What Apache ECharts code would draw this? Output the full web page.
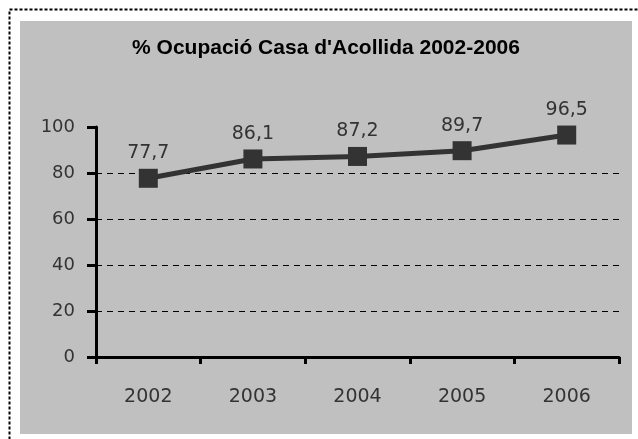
<!DOCTYPE html>
<html>
<head>
<meta charset="utf-8">
<script src="https://cdn.jsdelivr.net/npm/echarts@6/dist/echarts.min.js"></script>
<style>
html,body{margin:0;padding:0;background:#fff;}
#chart{width:638px;height:439px;}
</style>
</head>
<body>
<div id="chart"></div>
<script>
var titleText = "% Ocupació Casa d'Acollida 2002-2006";
var categories = ['2002', '2003', '2004', '2005', '2006'];
var occupancy = [77.7, 86.1, 87.2, 89.7, 96.5];
var yTicks = [0, 20, 40, 60, 80, 100];

var chart = echarts.init(document.getElementById('chart'), null, {renderer: 'canvas'});
var numFont = 'DejaVu Sans';
chart.setOption({
  backgroundColor: '#ffffff',
  animation: false,
  graphic: [
    {type: 'rect', shape: {x: 20, y: 21, width: 612, height: 413}, style: {fill: '#c0c0c0'}, z: -10},
    {type: 'rect', shape: {x: 9.5, y: 9.5, width: 660, height: 460},
     style: {fill: null, stroke: '#000', lineWidth: 2, lineDash: [3, 2]}, z: -9}
  ],
  title: {
    text: titleText,
    left: 321,
    textAlign: 'center',
    top: 33,
    textStyle: {fontFamily: 'Liberation Sans', fontWeight: 'bold', fontSize: 21, color: '#000'}
  },
  grid: {left: 96, right: 19, top: 127, bottom: 82, containLabel: false},
  xAxis: {
    type: 'category',
    data: categories,
    boundaryGap: true,
    axisLine: {lineStyle: {color: '#000', width: 3}},
    axisTick: {show: true, length: 7, lineStyle: {color: '#000', width: 3}},
    axisLabel: {margin: 31, fontFamily: numFont, fontSize: 19, color: '#333'},
    splitLine: {show: false}
  },
  yAxis: {
    type: 'value',
    min: yTicks[0],
    max: yTicks[yTicks.length - 1],
    interval: yTicks[1] - yTicks[0],
    axisLine: {show: true, lineStyle: {color: '#000', width: 3}},
    axisTick: {show: true, length: 9, lineStyle: {color: '#000', width: 3}},
    axisLabel: {margin: 21, fontFamily: numFont, fontSize: 18, color: '#333'},
    splitLine: {show: true, showMinLine: false, showMaxLine: false,
                lineStyle: {color: '#000', width: 1, type: [6, 5]}}
  },
  series: [{
    type: 'line',
    data: occupancy,
    symbol: 'rect',
    symbolSize: 19,
    itemStyle: {color: '#333333'},
    lineStyle: {color: '#333333', width: 5},
    label: {
      show: true,
      position: 'top',
      distance: 6,
      fontFamily: numFont,
      fontSize: 19,
      color: '#333',
      formatter: function (p) { return p.value.toFixed(1).replace('.', ','); }
    }
  }]
});
</script>
</body>
</html>
